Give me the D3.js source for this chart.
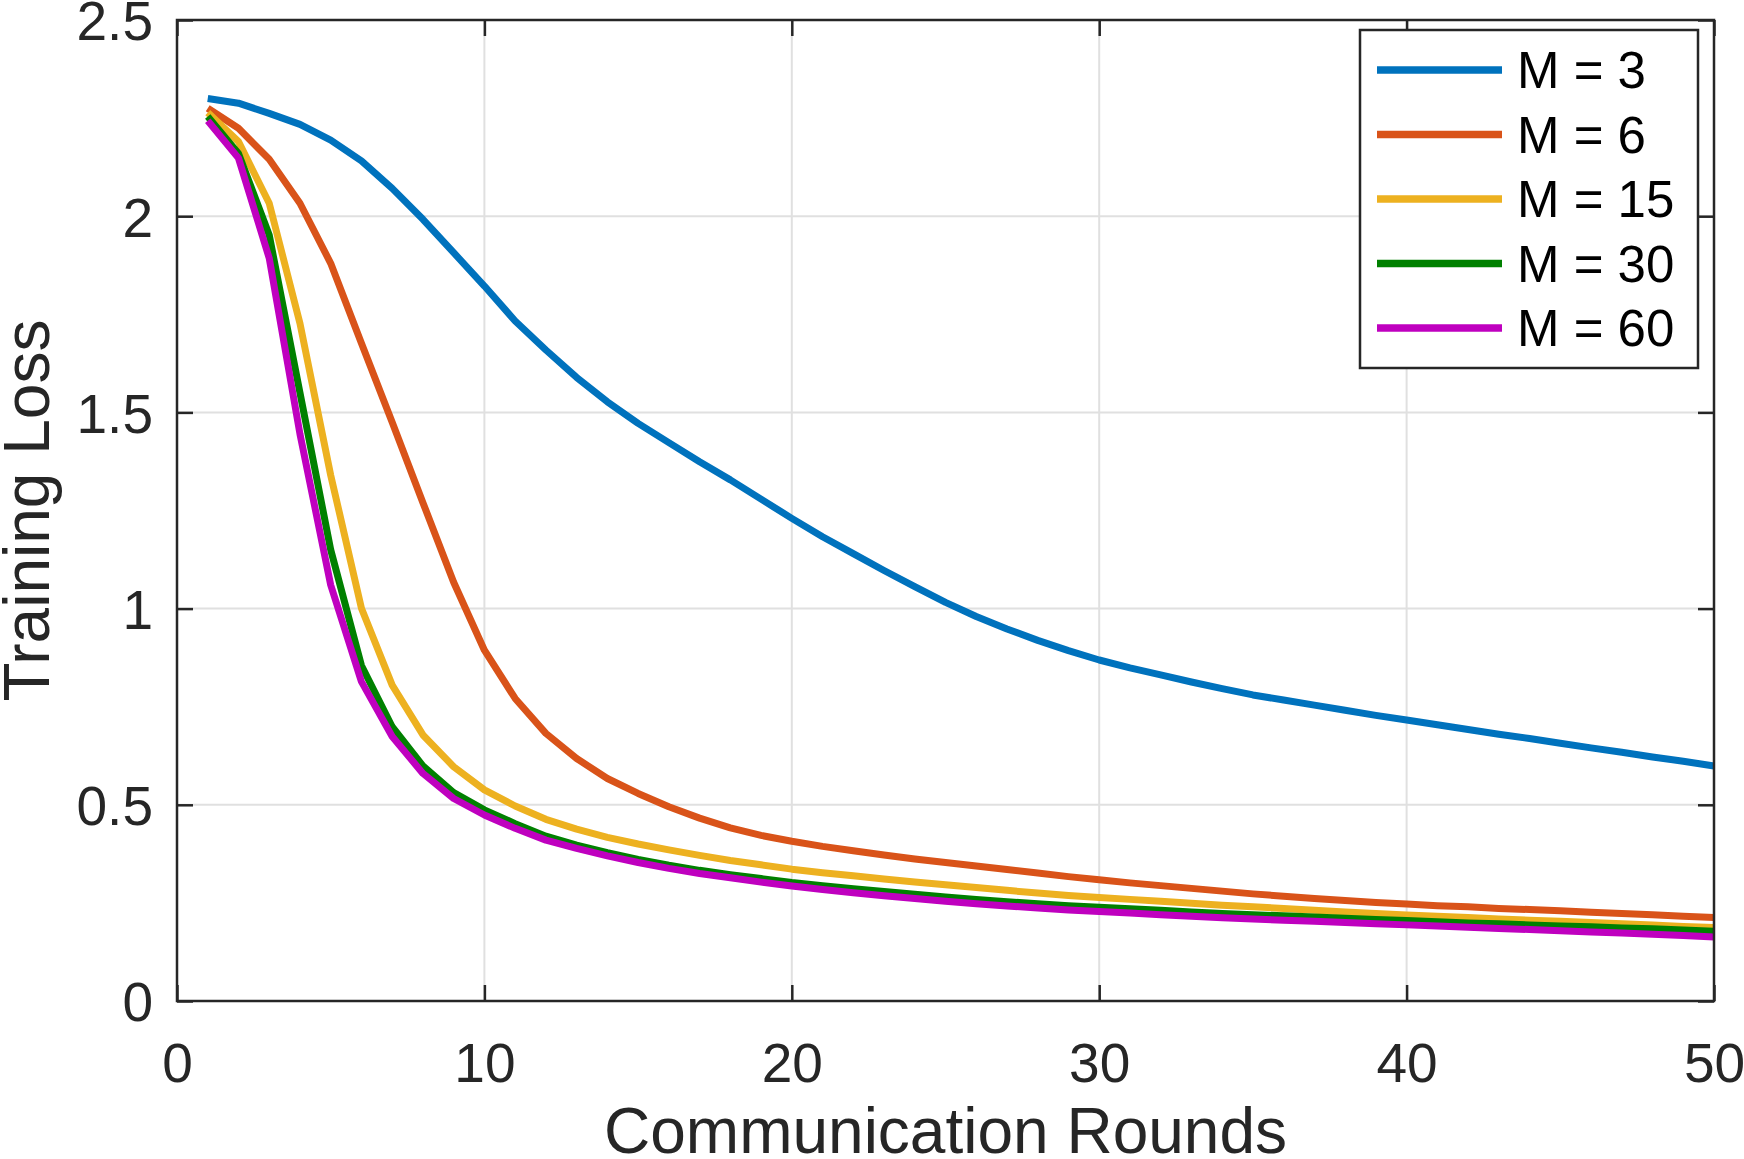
<!DOCTYPE html>
<html>
<head>
<meta charset="utf-8">
<script src="https://cdn.jsdelivr.net/npm/d3@7"></script>
<style>
  body { margin: 0; background: #fff; }
  text { font-family: "Liberation Sans", Arial, Helvetica, sans-serif; }
</style>
</head>
<body>
<svg id="chart" width="1744" height="1159"></svg>
<script>
var rounds = d3.range(1, 51);

var lossM3 = [2.300, 2.288, 2.262, 2.234, 2.194, 2.141, 2.071, 1.992, 1.907, 1.822,
  1.733, 1.659, 1.589, 1.527, 1.472, 1.423, 1.374, 1.328, 1.279, 1.230,
  1.183, 1.140, 1.097, 1.056, 1.016, 0.980, 0.948, 0.919, 0.893, 0.869,
  0.849, 0.831, 0.813, 0.796, 0.780, 0.767, 0.754, 0.741, 0.728, 0.716,
  0.704, 0.692, 0.680, 0.669, 0.657, 0.645, 0.634, 0.622, 0.611, 0.599];

var lossM6 = [2.275, 2.224, 2.145, 2.033, 1.880, 1.676, 1.475, 1.270, 1.067, 0.894,
  0.771, 0.682, 0.618, 0.567, 0.529, 0.495, 0.466, 0.441, 0.422, 0.407,
  0.394, 0.383, 0.372, 0.362, 0.353, 0.344, 0.335, 0.326, 0.317, 0.309,
  0.301, 0.294, 0.287, 0.280, 0.273, 0.267, 0.261, 0.256, 0.251, 0.247,
  0.243, 0.240, 0.236, 0.233, 0.230, 0.226, 0.223, 0.220, 0.216, 0.213];

var lossM15 = [2.264, 2.190, 2.033, 1.727, 1.340, 1.001, 0.805, 0.678, 0.597, 0.538,
  0.497, 0.463, 0.438, 0.417, 0.400, 0.385, 0.371, 0.358, 0.347, 0.336,
  0.327, 0.319, 0.311, 0.303, 0.296, 0.289, 0.282, 0.275, 0.269, 0.264,
  0.259, 0.254, 0.249, 0.244, 0.240, 0.236, 0.231, 0.227, 0.223, 0.219,
  0.216, 0.213, 0.209, 0.206, 0.203, 0.200, 0.197, 0.194, 0.190, 0.187];

var lossM30 = [2.254, 2.160, 1.952, 1.550, 1.150, 0.855, 0.699, 0.599, 0.531, 0.487,
  0.452, 0.420, 0.397, 0.378, 0.361, 0.346, 0.333, 0.322, 0.312, 0.302,
  0.294, 0.286, 0.279, 0.272, 0.265, 0.259, 0.253, 0.248, 0.243, 0.239,
  0.235, 0.231, 0.227, 0.223, 0.220, 0.217, 0.214, 0.211, 0.208, 0.205,
  0.202, 0.199, 0.197, 0.194, 0.191, 0.189, 0.186, 0.184, 0.181, 0.178];

var lossM60 = [2.243, 2.148, 1.893, 1.445, 1.060, 0.814, 0.674, 0.580, 0.516, 0.474,
  0.440, 0.410, 0.389, 0.370, 0.353, 0.338, 0.325, 0.314, 0.303, 0.293,
  0.284, 0.276, 0.268, 0.261, 0.254, 0.248, 0.242, 0.237, 0.232, 0.228,
  0.224, 0.220, 0.216, 0.212, 0.209, 0.206, 0.203, 0.200, 0.197, 0.194,
  0.191, 0.188, 0.185, 0.182, 0.179, 0.176, 0.173, 0.170, 0.167, 0.163];

var seriesNames = ['M = 3', 'M = 6', 'M = 15', 'M = 30', 'M = 60'];
var seriesValues = [lossM3, lossM6, lossM15, lossM30, lossM60];
var seriesColors = ['#0072BD', '#D95319', '#EDB120', '#008000', '#BF00BF'];

var xTicks = [0, 10, 20, 30, 40, 50];
var yTicks = [0, 0.5, 1, 1.5, 2, 2.5];

var axisColor = '#262626';
// plot box edges (window.top is reserved, so prefix them)
var plotLeft = 177, plotTop = 20, plotRight = 1714, plotBottom = 1001;
var tickLen = 16;

var svg = d3.select('#chart');

var x = d3.scaleLinear().domain([0, 50]).range([plotLeft, plotRight]);
var y = d3.scaleLinear().domain([0, 2.5]).range([plotBottom, plotTop]);

// grid
var grid = svg.append('g').attr('stroke', '#e0e0e0').attr('stroke-width', 2);
grid.selectAll('.gx').data(xTicks.slice(1, -1)).enter().append('line')
  .attr('x1', function(d) { return x(d); })
  .attr('x2', function(d) { return x(d); })
  .attr('y1', plotTop).attr('y2', plotBottom);
grid.selectAll('.gy').data(yTicks.slice(1, -1)).enter().append('line')
  .attr('y1', function(d) { return y(d); })
  .attr('y2', function(d) { return y(d); })
  .attr('x1', plotLeft).attr('x2', plotRight);

// curves
var line = d3.line()
  .x(function(d, i) { return x(rounds[i]); })
  .y(function(d) { return y(d); });

svg.append('g').selectAll('path').data(seriesValues).enter().append('path')
  .attr('d', line)
  .attr('fill', 'none')
  .attr('stroke', function(d, i) { return seriesColors[i]; })
  .attr('stroke-width', 7)
  .attr('stroke-linejoin', 'round');

// axes: bottom/left with labels, top/right mirrored, ticks pointing in
var xAxis = svg.append('g').attr('transform', 'translate(0,' + plotBottom + ')')
  .call(d3.axisBottom(x).tickValues(xTicks).tickSize(-tickLen).tickSizeOuter(0).tickPadding(0));
var yAxis = svg.append('g').attr('transform', 'translate(' + plotLeft + ',0)')
  .call(d3.axisLeft(y).tickValues(yTicks).tickFormat(d3.format('~g')).tickSize(-tickLen).tickSizeOuter(0).tickPadding(0));
svg.append('g').attr('transform', 'translate(0,' + plotTop + ')')
  .call(d3.axisTop(x).tickValues(xTicks).tickSize(-tickLen).tickSizeOuter(0).tickFormat(''));
svg.append('g').attr('transform', 'translate(' + plotRight + ',0)')
  .call(d3.axisRight(y).tickValues(yTicks).tickSize(-tickLen).tickSizeOuter(0).tickFormat(''));

svg.selectAll('.domain').remove();
svg.selectAll('.tick line').attr('stroke', axisColor).attr('stroke-width', 2.5);

xAxis.selectAll('text')
  .attr('y', 81).attr('dy', null)
  .attr('fill', axisColor)
  .style('font-size', '55px');
yAxis.selectAll('text')
  .attr('x', -24).attr('dy', '0.36em')
  .attr('fill', axisColor)
  .style('font-size', '55px');

svg.append('rect')
  .attr('x', plotLeft).attr('y', plotTop)
  .attr('width', plotRight - plotLeft).attr('height', plotBottom - plotTop)
  .attr('fill', 'none')
  .attr('stroke', axisColor)
  .attr('stroke-width', 2.5);

// axis titles
svg.append('text')
  .attr('x', (plotLeft + plotRight) / 2).attr('y', 1153)
  .attr('text-anchor', 'middle')
  .attr('fill', axisColor)
  .style('font-size', '64px')
  .text('Communication Rounds');

svg.append('text')
  .attr('transform', 'translate(49,' + ((plotTop + plotBottom) / 2) + ') rotate(-90)')
  .attr('text-anchor', 'middle')
  .attr('fill', axisColor)
  .style('font-size', '64px')
  .text('Training Loss');

// legend
var legend = svg.append('g');
legend.append('rect')
  .attr('x', 1360).attr('y', 30)
  .attr('width', 338).attr('height', 338)
  .attr('fill', '#fff')
  .attr('stroke', axisColor)
  .attr('stroke-width', 2.5);

var rows = legend.selectAll('.row').data(seriesNames).enter().append('g')
  .attr('transform', function(d, i) { return 'translate(0,' + (70 + i * 64.5) + ')'; });
rows.append('line')
  .attr('x1', 1377).attr('x2', 1502)
  .attr('stroke', function(d, i) { return seriesColors[i]; })
  .attr('stroke-width', 7.5);
rows.append('text')
  .attr('x', 1517).attr('dy', '0.36em')
  .attr('fill', '#000')
  .style('font-size', '51px')
  .text(function(d) { return d; });
</script>
</body>
</html>
